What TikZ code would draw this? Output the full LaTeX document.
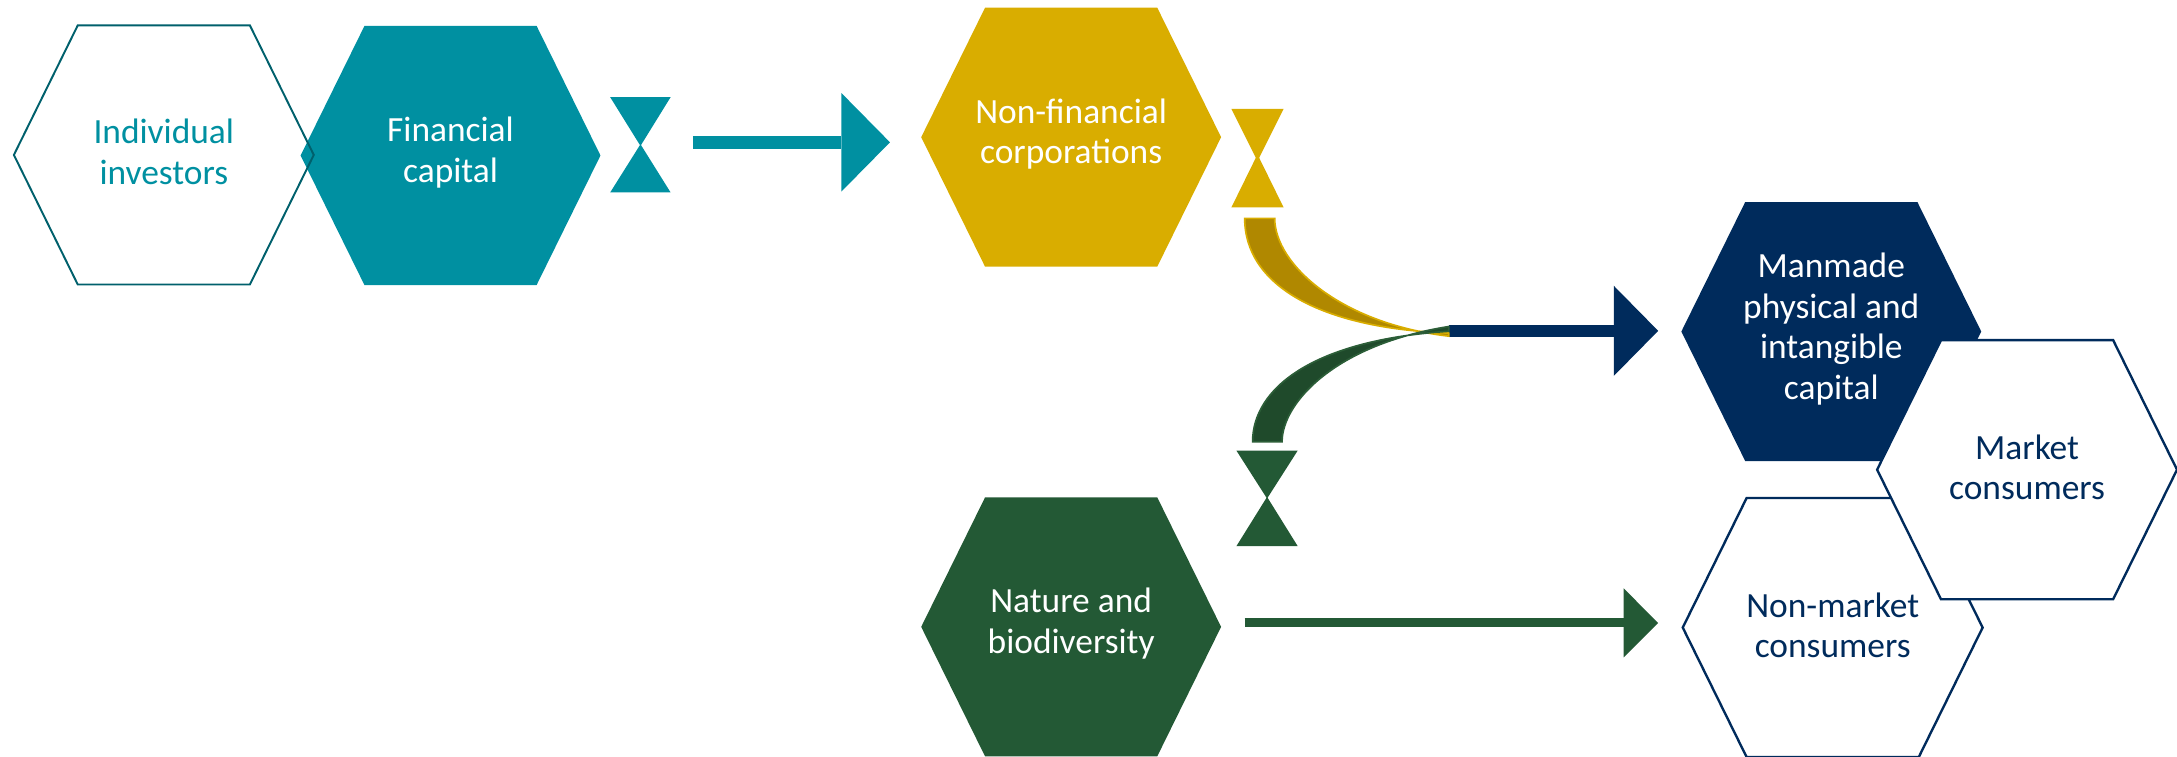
\documentclass[tikz,border=0pt]{standalone}
\usepackage{fontspec}
\setmainfont{Carlito}
\usetikzlibrary{arrows.meta}

\definecolor{tealc}{HTML}{0090A1}
\definecolor{tealdark}{HTML}{00606C}
\definecolor{goldc}{HTML}{D9AD00}
\definecolor{golddark}{HTML}{B08800}
\definecolor{navyc}{HTML}{002B5C}
\definecolor{greenc}{HTML}{235935}
\definecolor{greendark}{HTML}{1F4A2B}
\definecolor{greenedge}{HTML}{2C5E38}

\begin{document}
\begin{tikzpicture}[x=1pt,y=-1pt,
  pics/hex/.style={code={
    \path[pic actions] (-108,0) -- (-62,-93.3) -- (62,-93.3) -- (108,0)
      -- (62,93.3) -- (-62,93.3) -- cycle;}},
  lbl/.style={align=center,inner sep=0pt,font=\fontsize{25.5}{29.2}\selectfont},
  flow/.style={line width=#1},
  tipA/.style n args={2}{-{Triangle[length=#1pt,width=#2pt,line width=0pt]}},
  band/.style={line width=1.2pt}
]
\useasboundingbox (0,0) rectangle (1568,545);

% ---- hexagons: capital stocks and holders ----
\pic[fill=tealc] at (324.5,112) {hex};
\pic[draw=tealdark,line width=1.4pt] at (118,111.6) {hex};
\pic[fill=goldc] at (771.5,98.8) {hex};
\pic[fill=greenc] at (771.5,451.5) {hex};
\pic[fill=navyc] at (1319,238.8) {hex};
\pic[fill=white,draw=navyc,line width=1.7pt] at (1320,452) {hex};
\pic[fill=white,draw=navyc,line width=1.7pt] at (1460,338.3) {hex};

\node[lbl,text=tealc] (ind) at (118,109.5) {Individual\\investors};
\node[lbl,text=white] (fin) at (324.5,110) {Financial\\capital};
\node[lbl,text=white] (nfc) at (771.5,96.5) {Non-financial\\corporations};
\node[lbl,text=white] (nat) at (771.5,449) {Nature and\\biodiversity};
\node[lbl,text=white] (mmc) at (1319,237) {Manmade\\physical and\\intangible\\capital};
\node[lbl,text=navyc] (mkt) at (1460,336.5) {Market\\consumers};
\node[lbl,text=navyc] (nmk) at (1320,450.5) {Non-market\\consumers};

% ---- hourglass markers ----
\coordinate (hgT) at (461.3,104.5);
\fill[tealc] (439.5,70) -- (483,70) -- ([yshift=-0.6pt]hgT) -- cycle;
\fill[tealc] ([yshift=0.6pt]hgT) -- (483,138.6) -- (439.5,138.6) -- cycle;

\coordinate (hgG) at (905.7,113.6);
\fill[goldc] (886.9,78.5) -- (924.5,78.5) -- ([yshift=-2.4pt]hgG) -- cycle;
\fill[goldc] ([yshift=2.4pt]hgG) -- (924.5,149.4) -- (886.9,149.4) -- cycle;

\coordinate (hgN) at (912.6,358.5);
\fill[greenc] (890.5,324.5) -- (934.7,324.5) -- ([yshift=-0.6pt]hgN) -- cycle;
\fill[greenc] ([yshift=0.6pt]hgN) -- (934.7,393.4) -- (890.5,393.4) -- cycle;

% ---- flows ----
\coordinate (finOut) at (499,102.5);
\coordinate (nfcIn) at (641,102.5);
\draw[tealc,flow=9pt,tipA={35}{71}] (finOut) -- (nfcIn);

\coordinate (join) at (1043.4,238.3);
\coordinate (mmcIn) at (1194.3,238.3);
\draw[navyc,flow=8.4pt,tipA={32}{65}] (join) -- (mmcIn);

\coordinate (natOut) at (896.5,448.7);
\coordinate (nmkIn) at (1194.3,448.7);
\draw[greenc,flow=6.5pt,tipA={24.8}{49.7}] (natOut) -- (nmkIn);

% curved feeders merging into the manmade-capital flow
\coordinate (goldStart) at (907.3,157.3);
\filldraw[fill=golddark,draw=goldc,band]
  ([xshift=-10.8pt]goldStart) .. controls (896.5,205) and (950,236.5) .. ([yshift=-1.6pt]join)
  -- ([yshift=-3.8pt]join) .. controls (965,233) and (918.1,190) .. ([xshift=10.8pt]goldStart)
  -- cycle;

\coordinate (greenStart) at (912.8,318.2);
\filldraw[fill=greendark,draw=greenedge,band]
  ([xshift=-10.6pt]greenStart) .. controls (902.2,280) and (945,245) .. ([yshift=-0.3pt]join)
  -- ([yshift=3.1pt]join) .. controls (962,248) and (923.4,290) .. ([xshift=10.6pt]greenStart)
  -- cycle;
\end{tikzpicture}
\end{document}
